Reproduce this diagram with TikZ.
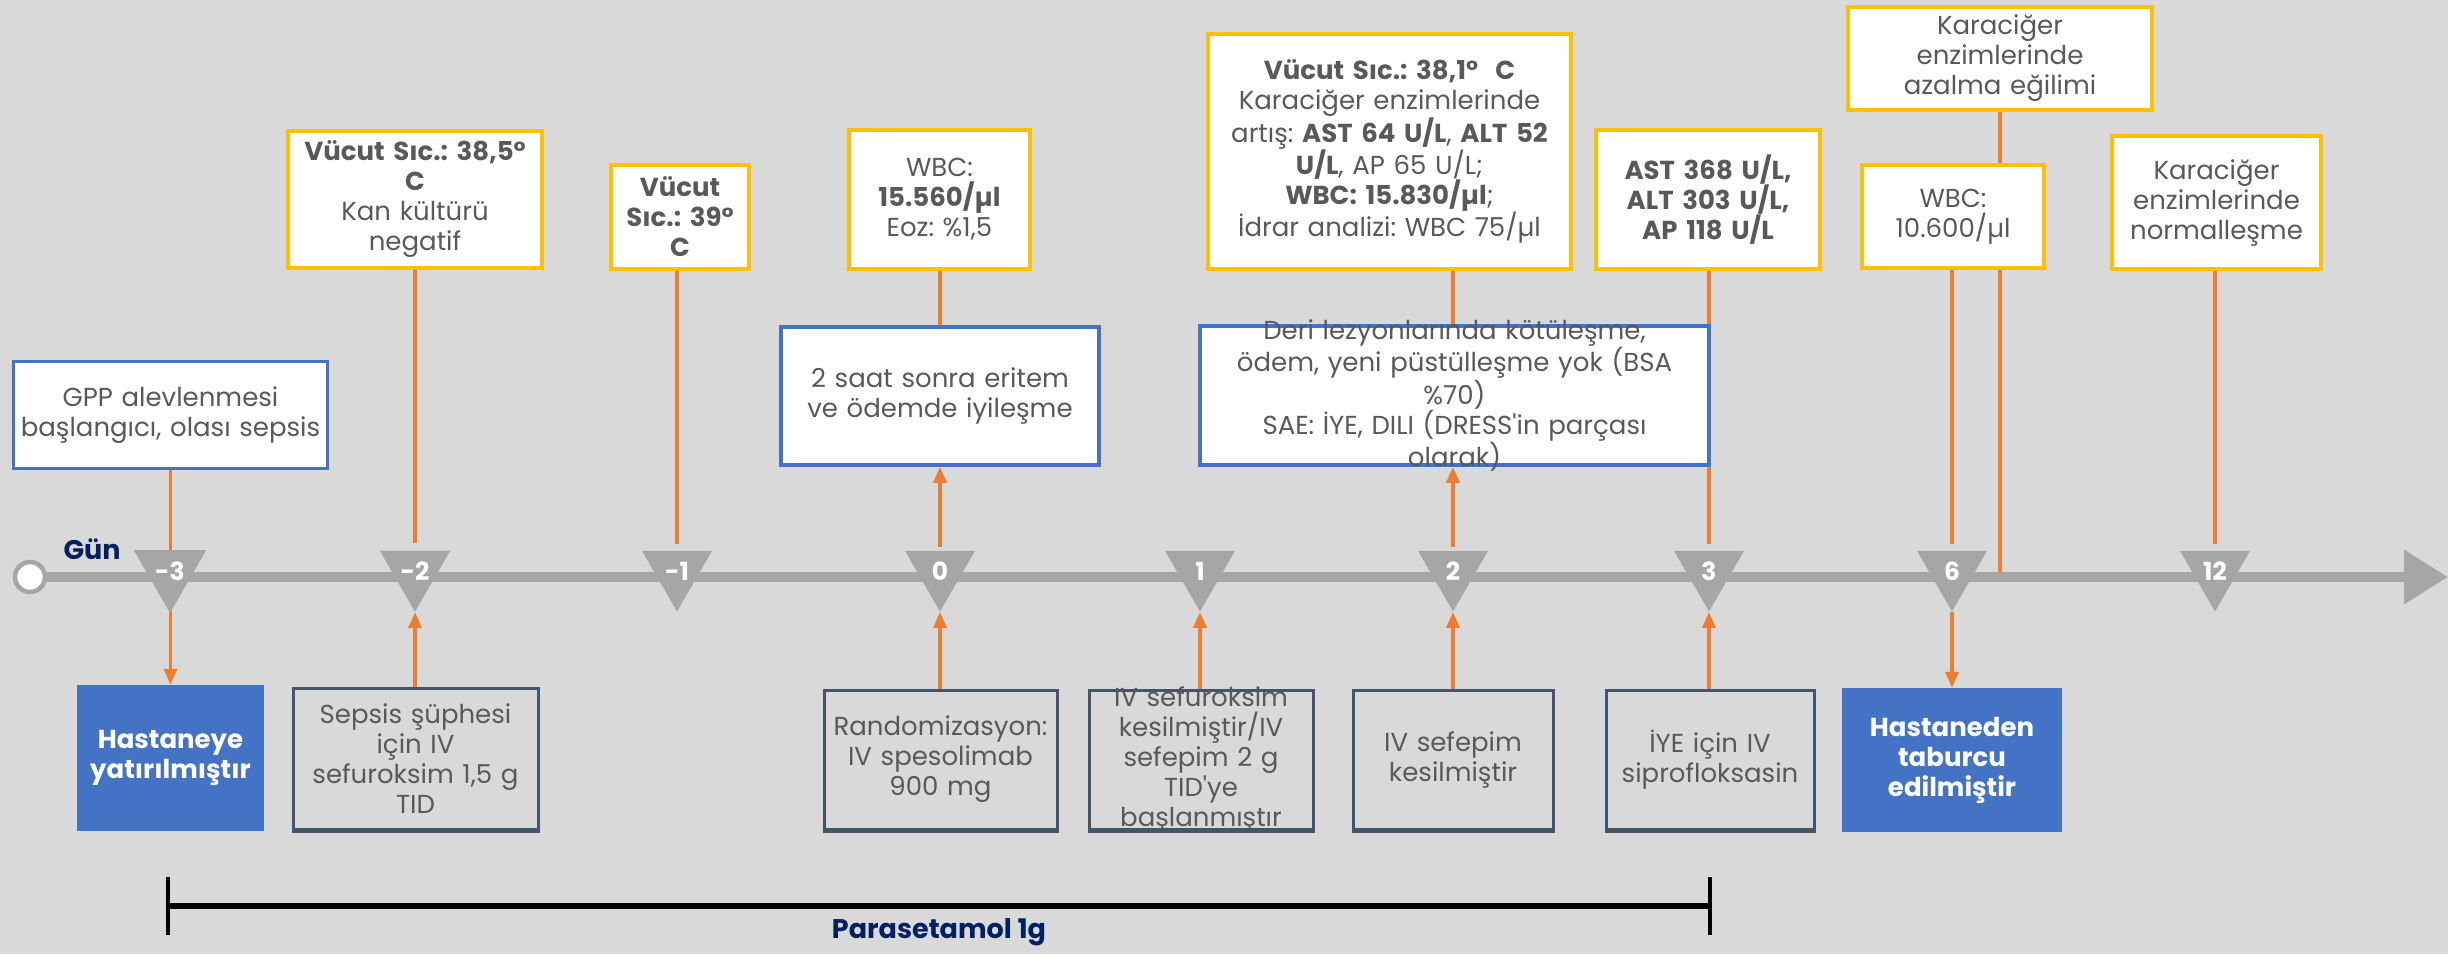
\documentclass[tikz,border=0pt]{standalone}
\usepackage{fontspec}
\setmainfont{Poppins}
\usetikzlibrary{arrows.meta,shapes.geometric}
\definecolor{bgc}{HTML}{D9D9D9}
\definecolor{axc}{HTML}{A6A6A6}
\definecolor{orc}{HTML}{ED7D31}
\definecolor{yec}{HTML}{FFC000}
\definecolor{blc}{HTML}{4472C4}
\definecolor{dsc}{HTML}{44546A}
\definecolor{txc}{HTML}{595959}
\definecolor{nvc}{HTML}{002060}
\pgfdeclarelayer{back}
\pgfdeclarelayer{lines}
\pgfsetlayers{back,lines,main}
\frenchspacing
\tikzset{
  txt/.style={font=\fontsize{26}{30}\selectfont, text=txc, align=center, inner xsep=2pt, inner ysep=2pt},
  ybox/.style={txt, draw=yec, line width=4pt, fill=white},
  bbox/.style={txt, draw=blc, line width=3.5pt, fill=white},
  dbox/.style={txt, draw=dsc, line width=3pt},
  fbox/.style={txt, fill=blc, text=white, font=\fontsize{26}{30}\selectfont\bfseries},
  conn/.style={draw=orc, line width=3.5pt},
  arr/.style={conn, -{Triangle[length=16pt,width=13pt]}},
  tri/.style={regular polygon, regular polygon sides=3, shape border rotate=180, minimum size=81pt, inner sep=0pt, fill=axc, text=white, font=\fontsize{25}{27}\selectfont\bfseries},
  navy/.style={text=nvc, font=\fontsize{27}{30}\selectfont\bfseries}
}
\begin{document}
\begin{tikzpicture}[x=1pt,y=-1pt]
\begin{pgfonlayer}{back}
\fill[bgc] (0,0) rectangle (2448,954);
\end{pgfonlayer}
\useasboundingbox (0,0) rectangle (2448,954);

% axis
\node[circle, draw=axc, line width=4.5pt, fill=white, minimum size=30pt, inner sep=0pt] (start) at (30,577) {};
\coordinate (aend) at (2448,577);
\draw[axc, line width=10pt, -{Triangle[length=44pt,width=52pt]}] (start.east) -- (aend);
\node[navy] (gun) at (92,549) {Gün};

% ticks
\node[tri] (tm3) at (170,571) {-3};
\node[tri] (tm2) at (415,571) {-2};
\node[tri] (tm1) at (677,571) {-1};
\node[tri] (t0) at (940,571) {0};
\node[tri] (t1) at (1200,571) {1};
\node[tri] (t2) at (1453,571) {2};
\node[tri] (t3) at (1709,571) {3};
\node[tri] (t6) at (1952,571) {6};
\node[tri] (t12) at (2215,571) {12};

% upper boxes
\node[bbox, minimum width=314pt, minimum height=107pt, text width=300pt] (gpp) at (170.5,415) {GPP alevlenmesi\\başlangıcı, olası sepsis};
\node[ybox, minimum width=254pt, minimum height=137pt, text width=240pt] (ym2) at (415,199.5) {\textbf{Vücut Sıc.: 38,5°}\\\textbf{C}\\Kan kültürü\\negatif};
\node[ybox, minimum width=138pt, minimum height=104pt, text width=128pt] (ym1) at (680,217) {\textbf{Vücut}\\\textbf{Sıc.: 39°}\\\textbf{C}};
\node[ybox, minimum width=181pt, minimum height=139pt, text width=170pt] (y0) at (939.5,199.5) {WBC:\\\textbf{15.560/µl}\\Eoz: \%1,5};
\node[bbox, minimum width=318pt, minimum height=138pt, text width=300pt] (b0) at (940,396) {2 saat sonra eritem\\ve ödemde iyileşme};
\node[ybox, minimum width=363pt, minimum height=235pt, text width=350pt] (y2) at (1389.5,151.5) {\textbf{Vücut Sıc.: 38,1°~~C}\\Karaciğer enzimlerinde\\artış: \textbf{AST 64 U/L}, \textbf{ALT 52}\\\textbf{U/L}, AP 65 U/L;\\\textbf{WBC: 15.830/µl};\\İdrar analizi: WBC 75/µl};
\node[bbox, minimum width=509pt, minimum height=139pt, text width=490pt, inner ysep=-8pt] (b2) at (1454.5,395.5) {Deri lezyonlarında kötüleşme,\\ödem, yeni püstülleşme yok (BSA\\\%70)\\SAE: İYE, DILI (DRESS\textquotesingle in parçası\\olarak)};
\node[ybox, minimum width=224pt, minimum height=139pt, text width=210pt] (y3) at (1708,199.5) {\textbf{AST 368 U/L,}\\\textbf{ALT 303 U/L,}\\\textbf{AP 118 U/L}};
\node[ybox, minimum width=304pt, minimum height=103pt, text width=290pt] (y6a) at (2000,58.5) {Karaciğer\\enzimlerinde\\azalma eğilimi};
\node[ybox, minimum width=182pt, minimum height=103pt, text width=170pt] (y6) at (1953,216.5) {WBC:\\10.600/µl};
\node[ybox, minimum width=209pt, minimum height=133pt, text width=196pt] (y12) at (2216.5,202.5) {Karaciğer\\enzimlerinde\\normalleşme};

% lower boxes
\node[fbox, minimum width=187pt, minimum height=146pt, text width=180pt] (hast) at (170.5,758) {Hastaneye\\yatırılmıştır};
\node[dbox, minimum width=245pt, minimum height=141pt, text width=235pt] (sep) at (415.5,758.5) {Sepsis şüphesi\\için IV\\sefuroksim 1,5 g\\TID};
\node[dbox, minimum width=233pt, minimum height=139pt, text width=225pt] (rand) at (940.5,759.5) {Randomizasyon:\\IV spesolimab\\900 mg};
\node[dbox, minimum width=224pt, minimum height=139pt, text width=215pt, inner ysep=-8pt] (sef) at (1201,759.5) {IV sefuroksim\\kesilmiştir/IV\\sefepim 2 g\\TID\textquotesingle ye\\başlanmıştır};
\node[dbox, minimum width=200pt, minimum height=139pt, text width=190pt] (sefk) at (1453,759.5) {IV sefepim\\kesilmiştir};
\node[dbox, minimum width=208pt, minimum height=139pt, text width=200pt] (iye) at (1710,759.5) {İYE için IV\\siprofloksasin};
\node[fbox, minimum width=220pt, minimum height=144pt, text width=210pt] (tabur) at (1952,760) {Hastaneden\\taburcu\\edilmiştir};
\foreach \b in {sep,rand,sef,sefk,iye}{
  \draw[dsc, line width=5pt] (\b.south west) -- (\b.south east);
}

% connectors
\begin{pgfonlayer}{lines}
\draw[arr] (gpp.south) -- (hast.north);
\draw[conn] (ym2.south -| tm2.north) -- ([yshift=7pt]tm2.north);
\draw[arr] (sep.north -| tm2.south) -- (tm2.south);
\draw[conn] (ym1.south -| tm1.north) -- ([yshift=7pt]tm1.north);
\draw[conn] (y0.south -| t0.north) -- (b0.north -| t0.north);
\draw[arr] ([yshift=4pt]t0.north) -- (b0.south -| t0.north);
\draw[arr] (rand.north -| t0.south) -- (t0.south);
\draw[arr] (sef.north -| t1.south) -- (t1.south);
\draw[conn] (y2.south -| t2.north) -- (b2.north -| t2.north);
\draw[arr] ([yshift=4pt]t2.north) -- (b2.south -| t2.north);
\draw[arr] (sefk.north -| t2.south) -- (t2.south);
\draw[conn] (y3.south -| t3.north) -- ([yshift=7pt]t3.north);
\draw[arr] (iye.north -| t3.south) -- (t3.south);
\draw[conn] (y6.south -| t6.north) -- ([yshift=7pt]t6.north);
\draw[arr] (t6.south) -- (tabur.north -| t6.south);
\coordinate (ax6) at (2000,572);
\draw[conn] (y6a.south) -- (ax6);
\draw[conn] (y12.south -| t12.north) -- ([yshift=7pt]t12.north);
\end{pgfonlayer}

% paracetamol
\coordinate (pa) at (168,906);
\coordinate (pb) at (1710,906);
\draw[black, line width=6pt] (pa) -- (pb);
\draw[black, line width=4pt] ([yshift=29pt]pa) -- ([yshift=-29pt]pa);
\draw[black, line width=4pt] ([yshift=29pt]pb) -- ([yshift=-29pt]pb);
\node[navy] (para) at (939,932) {Parasetamol 1g};
\end{tikzpicture}
\end{document}
